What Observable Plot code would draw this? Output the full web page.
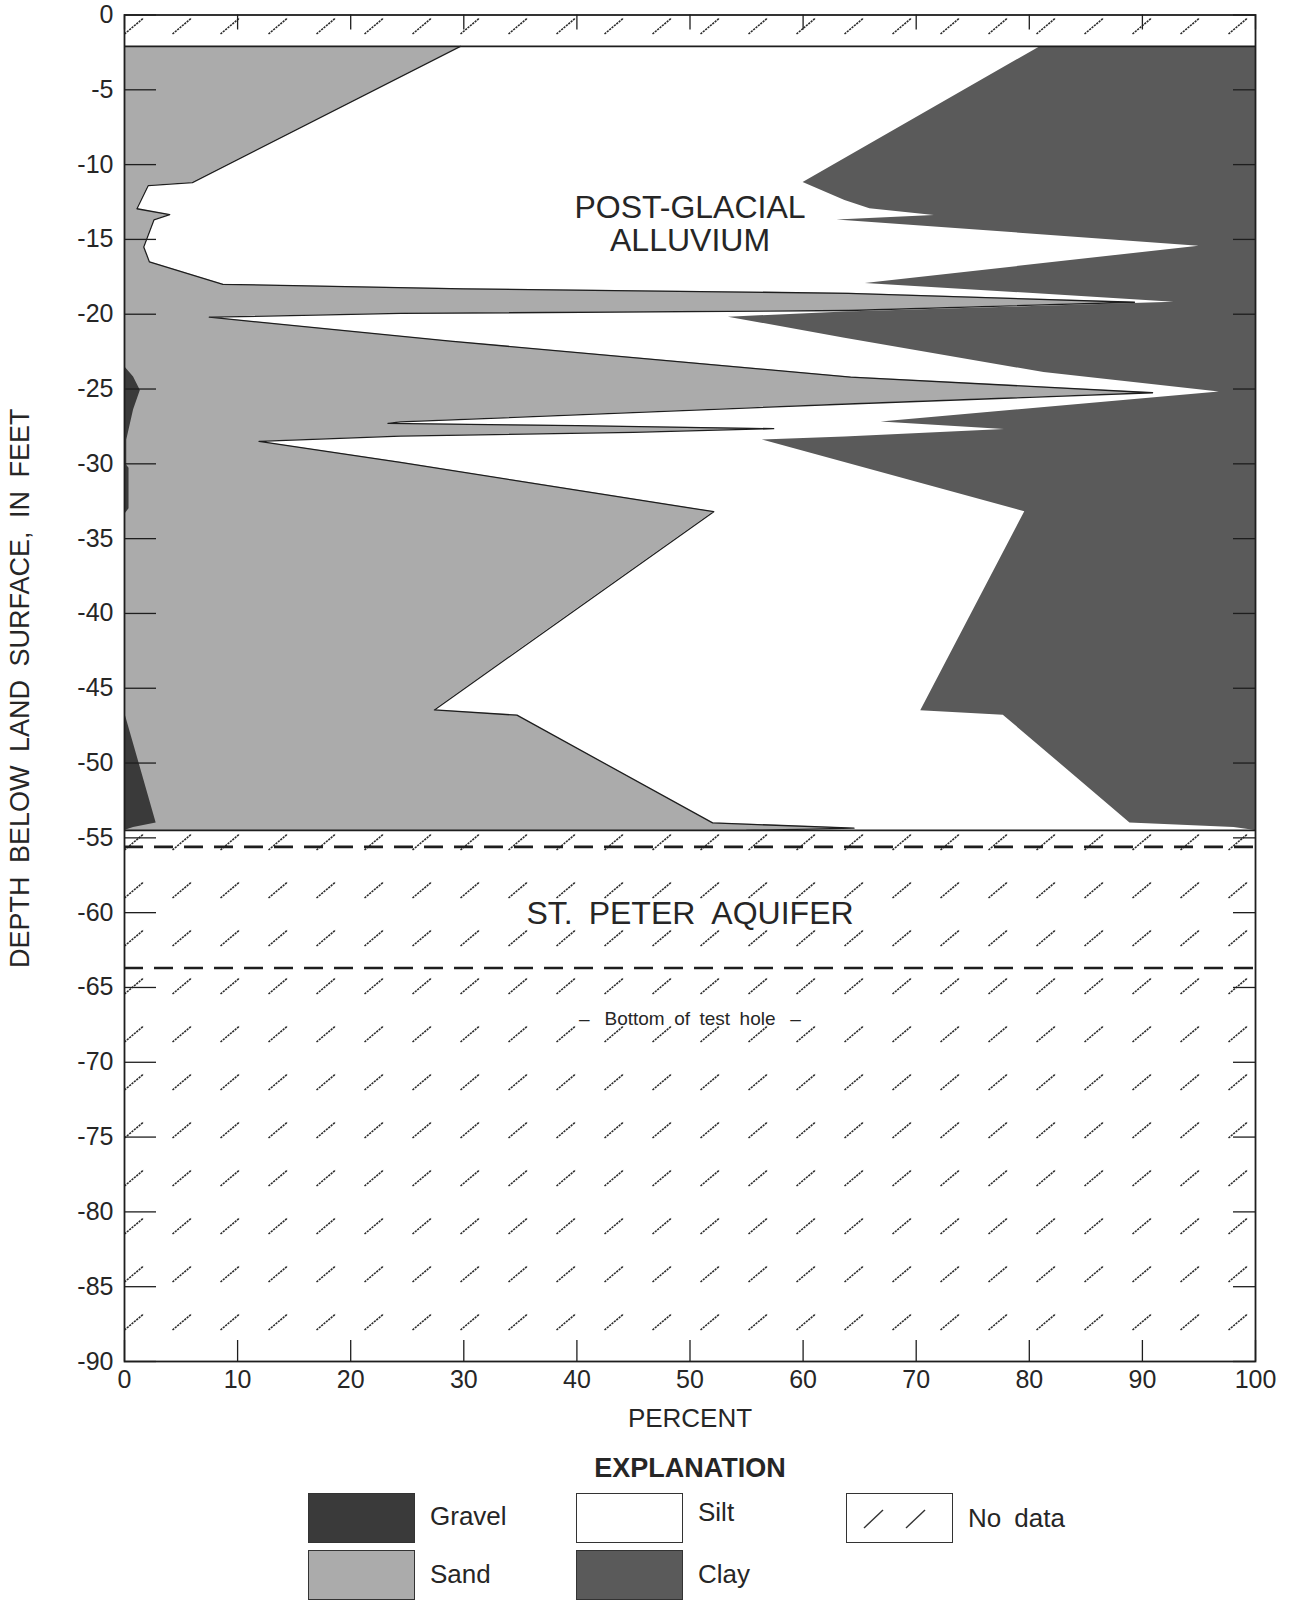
<!DOCTYPE html>
<html><head><meta charset="utf-8">
<script src="https://cdn.jsdelivr.net/npm/d3@7"></script>
<script src="https://cdn.jsdelivr.net/npm/@observablehq/plot@0.6"></script>
<style>
html,body{margin:0;padding:0;background:#fff;overflow:hidden;}
body{width:1294px;height:1602px;position:relative;font-family:"Liberation Sans",Arial,Helvetica,sans-serif;color:#262626;}
#chart{position:absolute;left:0;top:0;}
.sw{position:absolute;box-sizing:border-box;width:107px;height:50px;border:1.5px solid #333;}
.lbl{position:absolute;font-size:26px;line-height:30px;white-space:nowrap;}
.ttl{position:absolute;font-size:27px;font-weight:bold;line-height:30px;transform:translateX(-50%);white-space:nowrap;}
</style></head><body>
<div id="chart"></div>
<div id="legend"></div>
<script>
// ---- Data (depth in feet, cumulative percent boundaries) ----
// Gravel boundary (gravel %)
const gravelDepth = [-2.1, -23.5, -24.2, -25.1, -26.4, -28.4, -30.1, -30.3, -33.0, -33.4, -46.6, -54.0, -54.3, -54.5];
const gravelPct   = [0,     0,     0.8,   1.4,   0.8,   0.2,   0.2,   0.4,   0.4,   0,     0,     2.8,   0.8,   0];
// Sand boundary (gravel + sand %)
const sandDepth = [-2.1, -11.2, -11.4, -12.95, -13.35, -13.7, -15.5, -16.5, -18.0, -18.3, -18.6, -19.2, -19.75, -19.95, -20.2,
                   -21.8, -24.2, -25.25, -26.0, -27.2, -27.3, -27.45, -27.65, -27.9, -28.15, -28.5, -29.9, -33.2, -46.45, -46.8, -54.0, -54.35, -54.5];
const sandPct   = [29.7, 6.0, 2.1, 1.1, 4.0, 2.6, 1.7, 2.2, 8.7, 30.0, 64.0, 89.3, 64.0, 24.4, 7.5,
                   28.8, 64.2, 90.9, 64.0, 24.4, 23.3, 40.0, 57.4, 45.0, 24.4, 11.9, 24.4, 52.1, 27.4, 34.7, 52.0, 64.5, 55.0];
// Silt boundary (gravel + sand + silt %); clay fills the rest to 100
const siltDepth = [-2.1, -11.2, -12.4, -12.95, -13.4, -13.7, -15.45, -17.95, -18.6, -19.2, -19.6, -19.85, -20.2,
                   -21.6, -23.9, -25.2, -27.2, -27.7, -28.2, -28.4, -33.2, -46.5, -46.8, -54.0, -54.3, -54.5];
const siltPct   = [81.0, 60.0, 63.7, 65.9, 71.6, 63.0, 95.0, 65.5, 80.0, 92.8, 75.0, 63.7, 53.4,
                   63.7, 81.3, 96.8, 66.9, 77.8, 63.7, 56.4, 79.6, 70.4, 77.7, 88.9, 98.1, 100];
// No-data intervals (top, bottom)
const noDataTop    = [0, -54.5];
const noDataBottom = [-2.1, -90];
// Aquifer boundary depths (dashed)
const aquiferLines = [-55.6, -63.7];
// Ticks
const xTicks = [0, 10, 20, 30, 40, 50, 60, 70, 80, 90, 100];
const yTicks = [0, -5, -10, -15, -20, -25, -30, -35, -40, -45, -50, -55, -60, -65, -70, -75, -80, -85, -90];
// Text
const unitLabels = ["POST-GLACIAL", "ALLUVIUM", "ST.\u2002PETER\u2002AQUIFER"];
const unitLabelX = [50, 50, 50];
const unitLabelY = [-12.9, -15.1, -60.1];
const noteLabel = ["\u2013\u2002 Bottom\u2002of\u2002test\u2002hole \u2002\u2013"];
const noteX = [50];
const noteY = [-67.1];
const yTitle = ["DEPTH\u2002BELOW\u2002LAND\u2002SURFACE,\u2002IN\u2002FEET"];
const xTitle = ["PERCENT"];
// Legend
const categories = ["Gravel", "Sand", "Silt", "Clay", "No\u2002data"];
const colors     = ["#3a3a3a", "#ababab", "#ffffff", "#5a5a5a", "url(#nodata)"];

const W = 1294, H = 1440;
const mL = 124, mR = 39, mT = 14.5, mB = 79;
const plotW = W - mL - mR, plotH = H - mT - mB;
const ink = "#1e1e1e";

const chart = Plot.plot({
  width: W, height: H,
  marginLeft: mL, marginRight: mR, marginTop: mT, marginBottom: mB,
  x: {domain: [0, 100]},
  y: {domain: [-90, 0]},
  style: {fontFamily: '"Liberation Sans", Arial, sans-serif', fontSize: "25px", color: "#262626", background: "white", overflow: "visible"},
  marks: [
    Plot.rect(noDataTop, {y1: noDataTop, y2: noDataBottom, fill: colors[4]}),
    Plot.areaX(siltPct, {y: siltDepth, x1: siltPct, x2: 100, fill: colors[3]}),
    Plot.areaX(sandPct, {y: sandDepth, x1: 0, x2: sandPct, fill: colors[1]}),
    Plot.areaX(gravelPct, {y: gravelDepth, x1: 0, x2: gravelPct, fill: colors[0]}),
    Plot.lineX(sandPct, {x: sandPct, y: sandDepth, stroke: ink, strokeWidth: 1.3}),
    Plot.ruleY([noDataBottom[0], noDataTop[1]], {stroke: ink, strokeWidth: 1.6}),
    Plot.ruleY(aquiferLines, {stroke: ink, strokeWidth: 2.6, strokeDasharray: "19,11"}),
    Plot.tickY(yTicks, {y: d => d, stroke: ink, strokeWidth: 1.3, insetRight: plotW - 32}),
    Plot.tickY(yTicks, {y: d => d, stroke: ink, strokeWidth: 1.3, insetLeft: plotW - 22}),
    Plot.tickX(xTicks, {x: d => d, stroke: ink, strokeWidth: 1.3, insetTop: plotH - 21}),
    Plot.tickX(xTicks, {x: d => d, stroke: ink, strokeWidth: 1.3, insetBottom: plotH - 15}),
    Plot.frame({stroke: ink, strokeWidth: 1.8}),
    Plot.axisY(yTicks, {tickSize: 0, tickPadding: 11, tickFormat: d => String(d), fontSize: 25, label: null}),
    Plot.axisX(xTicks, {tickSize: 0, tickPadding: 9, tickFormat: d => String(d), fontSize: 25, label: null}),
    Plot.text(yTitle, {frameAnchor: "left", textAnchor: "middle", lineAnchor: "middle", rotate: -90, dx: -104, fontSize: 27, text: d => d}),
    Plot.text(xTitle, {frameAnchor: "bottom", lineAnchor: "middle", dy: 57, fontSize: 26, text: d => d}),
    Plot.text(unitLabels, {x: unitLabelX, y: unitLabelY, text: d => d, fontSize: 32}),
    Plot.text(noteLabel, {x: noteX, y: noteY, text: d => d, fontSize: 19})
  ]
});

// hatch pattern for "No data"
const svg = d3.select(chart);
const x0 = chart.scale("x").apply(0), yTop = chart.scale("y").apply(0);
const defs = svg.insert("defs", ":first-child");
const pat = defs.append("pattern").attr("id", "nodata").attr("patternUnits", "userSpaceOnUse")
  .attr("x", x0).attr("y", yTop - 12.5).attr("width", 48).attr("height", 48);
pat.append("line").attr("x1", 0.5).attr("y1", 32).attr("x2", 19.5).attr("y2", 16)
  .attr("stroke", "#2a2a2a").attr("stroke-width", 1.6).attr("stroke-dasharray", "2.2 0.9");
document.getElementById("chart").appendChild(chart);

// Legend (HTML below the SVG)
const lg = document.getElementById("legend");
const t = document.createElement("div"); t.className = "ttl"; t.textContent = "EXPLANATION";
t.style.left = "690px"; t.style.top = "1453px"; lg.appendChild(t);
const pos = [[308, 1493], [308, 1550], [576, 1493], [576, 1550], [846, 1493]];
const lblTop = [1501, 1559, 1497, 1559, 1503];
categories.forEach((c, i) => {
  const s = document.createElement("div"); s.className = "sw";
  s.style.left = pos[i][0] + "px"; s.style.top = pos[i][1] + "px";
  if (i < 4) s.style.background = colors[i];
  else {
    s.innerHTML = '<svg width="104" height="47" style="position:absolute;left:0;top:0">' +
      '<line x1="17" y1="34" x2="36" y2="16" stroke="#333" stroke-width="1.4"/>' +
      '<line x1="59" y1="34" x2="78" y2="16" stroke="#333" stroke-width="1.4"/></svg>';
  }
  lg.appendChild(s);
  const l = document.createElement("div"); l.className = "lbl"; l.textContent = c;
  l.style.left = (pos[i][0] + 122) + "px"; l.style.top = lblTop[i] + "px";
  lg.appendChild(l);
});
</script></body></html>
